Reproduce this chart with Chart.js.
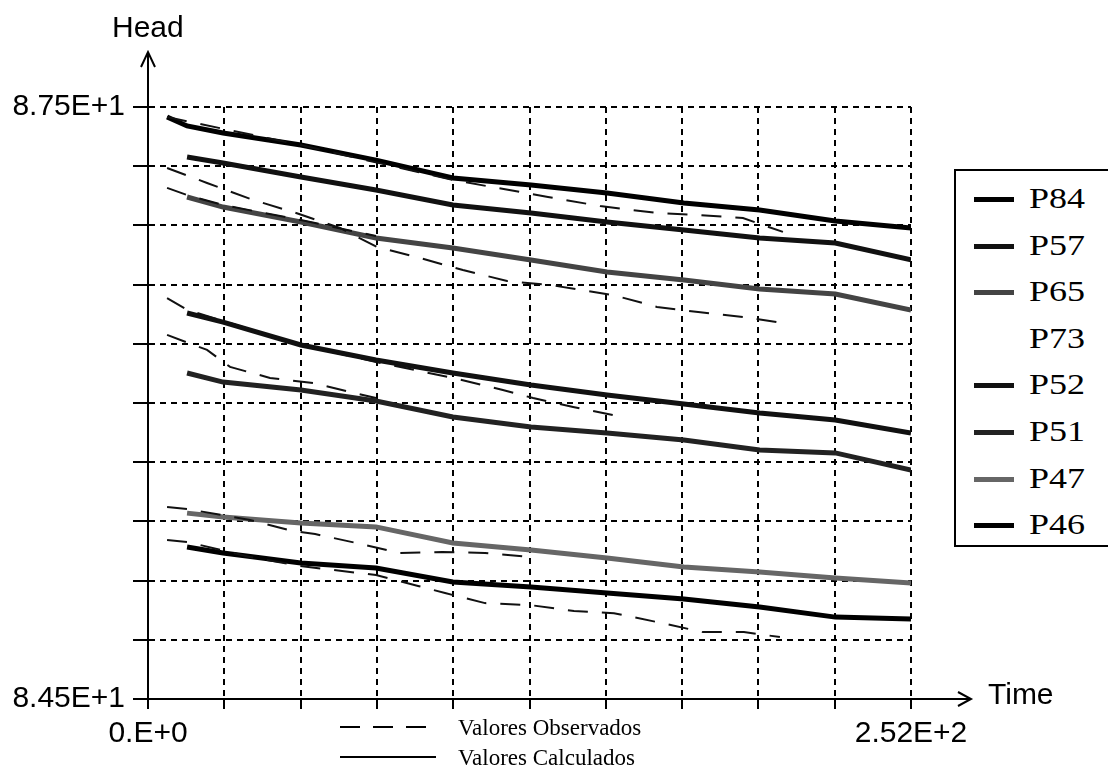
<!DOCTYPE html>
<html>
<head>
<meta charset="utf-8">
<script src="https://cdn.jsdelivr.net/npm/chart.js@4/dist/chart.umd.min.js"></script>
<style>
  html, body { margin: 0; padding: 0; background: #fff; overflow: hidden; }
  #wrap { position: relative; width: 1108px; height: 770px; }
  #chart { position: absolute; left: 0; top: 0; }
  .lbl { position: absolute; font-family: 'Liberation Sans', Arial, sans-serif; font-size: 30px; color: #000; line-height: 1; }
  #legend { position: absolute; left: 954px; top: 169px; width: 180px; height: 374px; border: 2px solid #000; background: #fff; }
  .item { position: absolute; left: 0; height: 30px; }
  .item .swatch { position: absolute; left: 18px; top: 13px; width: 40px; height: 5px; }
  .item .name { position: absolute; left: 73px; top: -1px; font-family: 'Liberation Serif', 'Times New Roman', serif; font-size: 30px; line-height: 30px; transform: scaleX(1.2); transform-origin: left center; }
  .key { position: absolute; font-family: 'Liberation Serif', 'Times New Roman', serif; font-size: 23px; line-height: 1; }
  .keyline { position: absolute; left: 340px; width: 96px; height: 2px; }
</style>
</head>
<body>
<div id="wrap">
  <canvas id="chart" width="1108" height="770"></canvas>
  <div class="lbl" style="left:112px; top:12px;">Head</div>
  <div class="lbl" style="left:988px; top:679px;">Time</div>
  <div id="legend"></div>
  <div class="keyline" style="top:726px; background: repeating-linear-gradient(to right, #000 0 20px, transparent 20px 33px);"></div>
  <div class="key" style="left:458px; top:716px;">Valores Observados</div>
  <div class="keyline" style="top:756px; background:#000;"></div>
  <div class="key" style="left:458px; top:746px;">Valores Calculados</div>
</div>
<script>
// --- Axis setup ---
const X_MIN = 0, X_MAX = 252;
const X_GRID = [0, 25.2, 50.4, 75.6, 100.8, 126, 151.2, 176.4, 201.6, 226.8, 252];
const X_LABELS = ['0.E+0', '2.52E+2'];
const Y_GRID = [84.5, 84.8, 85.1, 85.4, 85.7, 86.0, 86.3, 86.6, 86.9, 87.2, 87.5];
const Y_LABELS = ['8.45E+1', '8.75E+1'];

// --- Calculated heads (solid) ---
const T_CALC = [6.3, 12.9, 24.8, 50.5, 75.3, 100.7, 126.5, 151.6, 177, 202, 227, 252];
const P84 = [87.449, 87.404, 87.368, 87.307, 87.231, 87.140, 87.105, 87.064, 87.014, 86.978, 86.922, 86.887];
const P57 = [null, 87.247, 87.216, 87.145, 87.079, 87.003, 86.963, 86.917, 86.877, 86.836, 86.811, 86.725];
const P65 = [null, 87.044, 86.993, 86.917, 86.836, 86.785, 86.725, 86.664, 86.623, 86.578, 86.552, 86.471];
const P73 = [];
const P52 = [null, 86.456, 86.410, 86.294, 86.218, 86.152, 86.091, 86.041, 85.995, 85.949, 85.914, 85.848];
const P51 = [null, 86.152, 86.106, 86.066, 86.010, 85.929, 85.878, 85.848, 85.812, 85.762, 85.747, 85.660];
const P47 = [null, 85.442, 85.422, 85.392, 85.372, 85.291, 85.255, 85.214, 85.169, 85.143, 85.113, 85.088];
const P46 = [null, 85.270, 85.240, 85.189, 85.164, 85.093, 85.068, 85.037, 85.007, 84.966, 84.915, 84.905];

const NAMES = ['P84', 'P57', 'P65', 'P73', 'P52', 'P51', 'P47', 'P46'];
const CALC = [P84, P57, P65, P73, P52, P51, P47, P46];
const COLORS = ['#000', '#111', '#444', null, '#111', '#222', '#666', '#000'];

// --- Observed heads (dashed) ---
const OBS_T = [
  [6.3, 50.5, 100.7, 132.1, 149.3, 168.1, 181.3, 196.5, 209.7],
  [6.3, 19.5, 34.7, 47.9, 63.4, 75.6, 89.8, 104.0, 118.6, 132.8, 153.6, 168.1, 181.7, 196.5, 209.7],
  [6.3, 12.9, 24.8, 50.5, 75.3],
  [6.3, 12.9, 50.5, 75.3, 100.7, 117.2, 127.2, 140.4, 153.6],
  [6.3, 19.5, 27.1, 40.3, 54.5, 75.3],
  [6.3, 12.9, 33.7, 47.9, 55.2, 69.0, 83.2, 97.1, 111.3, 126.2],
  [6.3, 12.9, 33.7, 50.2, 75.3, 89.2, 98.1, 111.3, 126.2, 140.7, 153.9, 168.1, 183.3, 196.8, 208.7]
];
const OBS_V = [
  [87.449, 87.307, 87.130, 87.044, 86.998, 86.963, 86.953, 86.937, 86.867],
  [87.191, 87.115, 87.029, 86.968, 86.887, 86.791, 86.735, 86.674, 86.618, 86.598, 86.547, 86.487, 86.461, 86.436, 86.405],
  [87.090, 87.054, 87.003, 86.927, 86.846],
  [86.532, 86.472, 86.294, 86.208, 86.127, 86.066, 86.025, 85.980, 85.939],
  [86.345, 86.269, 86.183, 86.127, 86.101, 86.025],
  [85.473, 85.463, 85.407, 85.351, 85.336, 85.290, 85.240, 85.245, 85.240, 85.220],
  [85.306, 85.296, 85.220, 85.174, 85.128, 85.073, 85.037, 84.986, 84.976, 84.946, 84.935, 84.890, 84.839, 84.839, 84.814]
];

function toPoints(ts, vs) {
  return vs.map((v, i) => ({ x: ts[i], y: v }));
}

// --- Datasets ---
const datasets = [];
OBS_T.forEach((ts, i) => {
  datasets.push({
    label: 'obs' + i,
    data: toPoints(ts, OBS_V[i]),
    borderColor: '#111',
    borderWidth: 2,
    borderDash: [20, 14],
    pointRadius: 0,
    fill: false
  });
});
CALC.forEach((vals, i) => {
  if (!vals.length) return;
  datasets.push({
    label: NAMES[i],
    data: toPoints(T_CALC, vals),
    borderColor: COLORS[i],
    borderWidth: 5,
    pointRadius: 0,
    fill: false
  });
});

// Arrows on the axes
const axisArrows = {
  id: 'axisArrows',
  afterDraw(chart) {
    const { ctx, chartArea: a } = chart;
    ctx.save();
    ctx.strokeStyle = '#000';
    ctx.lineWidth = 2;
    ctx.beginPath();
    ctx.moveTo(a.left, a.top);
    ctx.lineTo(a.left, a.top - 55);
    ctx.moveTo(a.left - 7, a.top - 40);
    ctx.lineTo(a.left, a.top - 55);
    ctx.lineTo(a.left + 7, a.top - 40);
    ctx.moveTo(a.right, a.bottom);
    ctx.lineTo(a.right + 60, a.bottom);
    ctx.moveTo(a.right + 47, a.bottom - 7);
    ctx.lineTo(a.right + 60, a.bottom);
    ctx.lineTo(a.right + 47, a.bottom + 7);
    ctx.stroke();
    ctx.restore();
  }
};

const tickFont = { family: "'Liberation Sans', Arial, sans-serif", size: 30 };

new Chart(document.getElementById('chart'), {
  type: 'line',
  data: { datasets },
  options: {
    responsive: false,
    animation: false,
    events: [],
    layout: { padding: { top: 107, right: 197, left: 0, bottom: 0 } },
    plugins: { legend: { display: false }, tooltip: { enabled: false } },
    elements: { line: { tension: 0 } },
    scales: {
      x: {
        type: 'linear',
        min: X_MIN,
        max: X_MAX,
        afterBuildTicks: s => { s.ticks = X_GRID.map(v => ({ value: v })); },
        afterFit: s => { s.height = 71; },
        ticks: {
          autoSkip: false,
          maxRotation: 0,
          padding: 7,
          color: '#000',
          font: tickFont,
          callback: (v, i, t) => i === 0 ? X_LABELS[0] : (i === t.length - 1 ? X_LABELS[1] : '')
        },
        grid: { color: '#000', lineWidth: 2, tickLength: 10, tickWidth: 2, tickColor: '#000' },
        border: { display: true, color: '#000', width: 2, dash: [6, 5] }
      },
      y: {
        type: 'linear',
        min: 84.5,
        max: 87.5,
        afterBuildTicks: s => { s.ticks = Y_GRID.map(v => ({ value: v })); },
        afterFit: s => { s.width = 148; },
        ticks: {
          autoSkip: false,
          padding: 8,
          color: '#000',
          font: tickFont,
          callback: (v, i, t) => i === 0 ? Y_LABELS[0] : (i === t.length - 1 ? Y_LABELS[1] : '')
        },
        grid: { color: '#000', lineWidth: 2, tickLength: 15, tickWidth: 2, tickColor: '#000' },
        border: { display: true, color: '#000', width: 2, dash: [6, 5] }
      }
    }
  },
  plugins: [axisArrows]
});

// --- Series legend (boxed, right side) ---
const legendEl = document.getElementById('legend');
NAMES.forEach((name, i) => {
  const row = document.createElement('div');
  row.className = 'item';
  row.style.top = (13 + i * 46.6) + 'px';
  const sw = COLORS[i] ? `<span class="swatch" style="background:${COLORS[i]}"></span>` : '';
  row.innerHTML = `${sw}<span class="name">${name}</span>`;
  legendEl.appendChild(row);
});
</script>
</body>
</html>
